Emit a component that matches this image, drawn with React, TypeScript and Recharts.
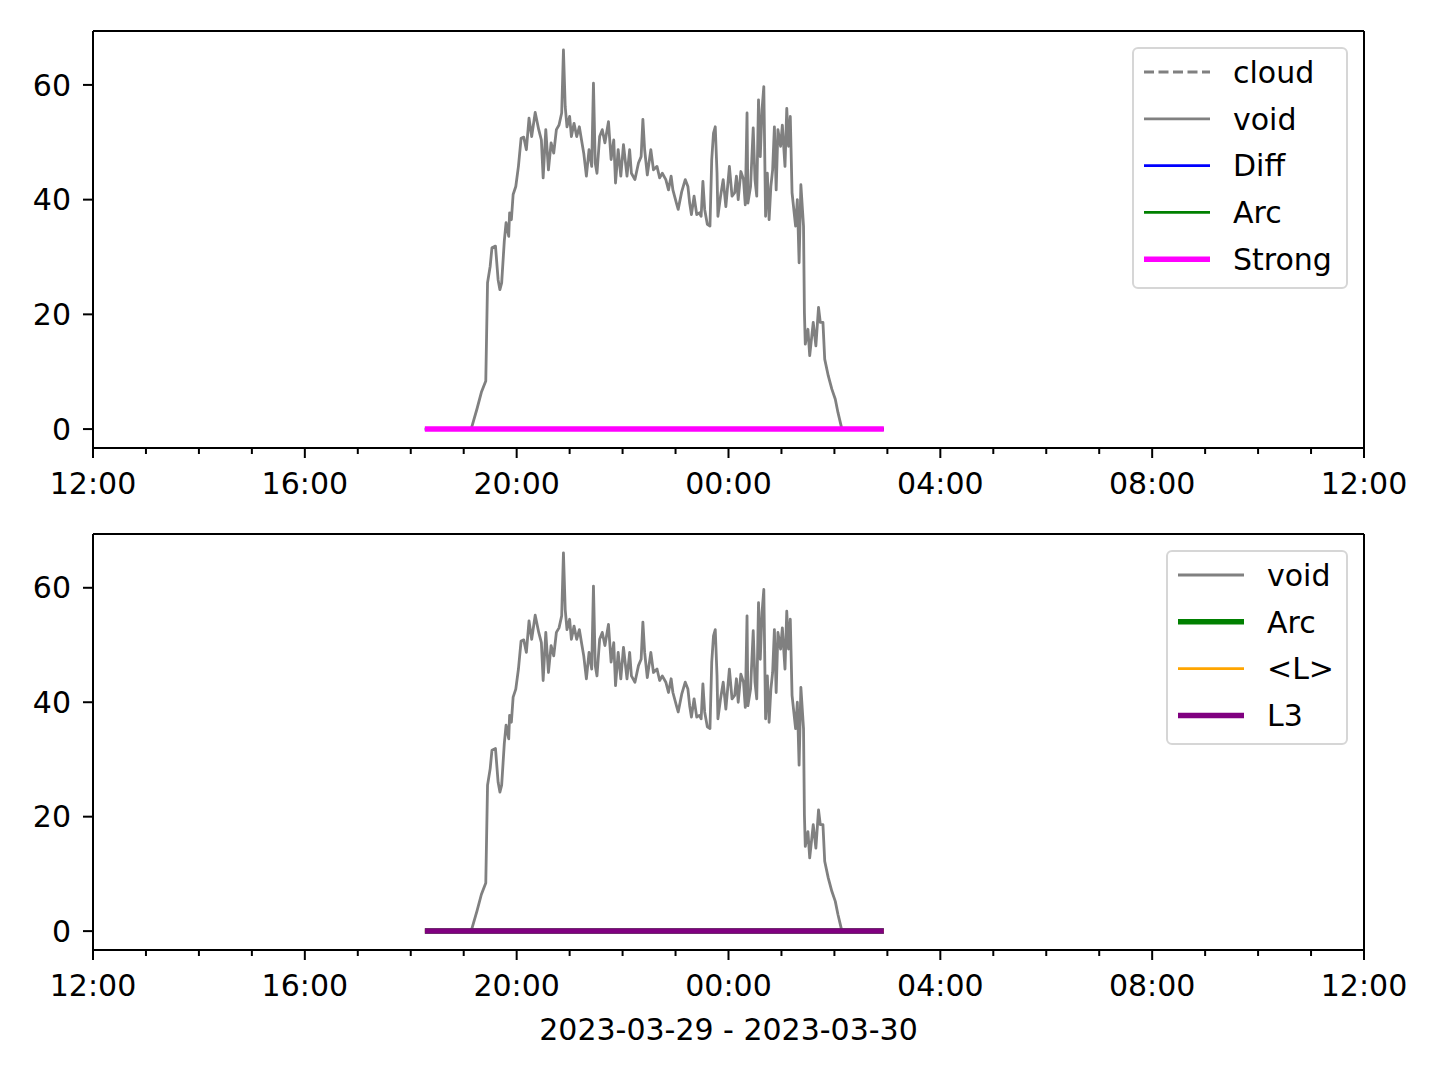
import React from 'react';
import { LineChart, Line, XAxis, YAxis, Legend, ReferenceLine } from 'recharts';

// minutes after 12:00 on 2023-03-29
const voidMinutes = [
  429, 435, 440, 445, 447, 450, 452, 456, 459, 461, 463, 466, 468, 471, 472, 474, 476, 479, 482, 485,
  488, 491, 494, 497, 501, 505, 508, 510, 513, 516, 519, 522, 525, 528, 531, 533, 535, 537, 540, 542,
  545, 548, 551, 554, 556, 559, 562, 565, 567, 569, 571, 574, 577, 580, 584, 587, 590, 592, 595, 598,
  601, 605, 608, 610, 614, 618, 621, 623, 625, 628, 632, 635, 639, 642, 645, 649, 652, 655, 657, 661,
  663, 667, 671, 674, 676, 678, 681, 684, 687, 689, 691, 693, 696, 699, 701, 703, 705, 707, 708, 711,
  714, 717, 721, 724, 727, 729, 731, 734, 737, 739, 741, 742, 745, 748, 750, 752, 754, 756, 758, 760,
  762, 764, 766, 768, 770, 772, 774, 776, 779, 781, 784, 786, 788, 790, 792, 796, 798, 800, 802, 805,
  806, 807, 810, 812, 816, 819, 822, 824, 827, 829, 833, 837, 841, 844, 848,
];
const voidValues = [
  0.3, 3.5, 6.4, 8.4, 25.5, 28.4, 31.6, 31.9, 26, 24.3, 25.5, 32.8, 36, 33.6, 37.7, 36.5, 40.9, 42.3, 45.8, 50.7,
  50.9, 48.7, 54.2, 51, 55.2, 52.2, 50.4, 43.8, 52.2, 45.2, 49.9, 48.1, 52.2, 53, 55.1, 66.1, 56.2, 52.7, 54.5, 51,
  53.3, 51, 52.7, 49.9, 48.1, 44.1, 48.7, 45.8, 60.3, 46.4, 44.6, 51, 52.2, 49.9, 53.6, 47, 50.4, 42.9, 48.7, 44.1,
  49.6, 44.1, 48.7, 44.6, 43.5, 46.4, 47.5, 54, 48.7, 44.3, 48.7, 45.2, 45.8, 43.8, 44.6, 43.5, 41.7, 44.1, 41.7, 39.4,
  38.3, 41.4, 43.5, 42.3, 39.4, 37.4, 40.6, 37.4, 37.7, 37.1, 43.2, 38.3, 35.7, 35.4, 47, 51.6, 52.7, 44.6, 37.1, 40.6,
  43.5, 38.8, 45.8, 40.6, 41.2, 44.1, 40, 44.9, 43.5, 39.1, 55.1, 39.4, 42.3, 52.5, 43.5, 40.6, 57.4, 47.5, 55.7, 59.7,
  37.1, 44.6, 36.5, 42.3, 45.2, 52.7, 41.7, 52.2, 49.3, 53, 45.8, 55.9, 49.3, 54.5, 41.2, 35.4, 40, 29, 42.6, 35.4,
  20.3, 14.8, 17.4, 12.8, 18.6, 14.5, 21.2, 18.6, 18.6, 12.2, 9.3, 7, 5.2, 2.9, 0.3,
];

// flat series at zero (18:16 -> 02:56)
const flatMinutes = [376, 896];
const flatValues = [0, 0];

const majorTicks = [0, 240, 480, 720, 960, 1200, 1440];
const minorTicks = [
  0, 60, 120, 180, 240, 300, 360, 420, 480, 540, 600, 660, 720,
  780, 840, 900, 960, 1020, 1080, 1140, 1200, 1260, 1320, 1380, 1440,
];
const yTicks = [0, 20, 40, 60];
const yDomain = [-3.3, 69.4];

const voidData = voidMinutes.map((t, i) => ({ t, v: voidValues[i] }));
const flatData = flatMinutes.map((t, i) => ({ t, v: flatValues[i] }));

const FONT = 'DejaVu Sans';
const FS = 30;
const GRAY = '#808080';
const AXIS = { stroke: '#000', strokeWidth: 2 };

type Item = { name: string; color: string; width: number; dash?: string; data: { t: number; v: number }[] };

const topSeries: Item[] = [
  { name: 'cloud', color: GRAY, width: 2.8, dash: '10 4.5', data: flatData },
  { name: 'void', color: GRAY, width: 2.8, data: voidData },
  { name: 'Diff', color: '#0000ff', width: 2.8, data: flatData },
  { name: 'Arc', color: '#008000', width: 2.8, data: flatData },
  { name: 'Strong', color: '#ff00ff', width: 5.5, data: flatData },
];

const bottomSeries: Item[] = [
  { name: 'void', color: GRAY, width: 2.8, data: voidData },
  { name: 'Arc', color: '#008000', width: 5.5, data: flatData },
  { name: '<L>', color: '#ffa500', width: 2.8, data: flatData },
  { name: 'L3', color: '#800080', width: 5.5, data: flatData },
];

const pad = (n: number) => String(n).padStart(2, '0');
const fmtTime = (m: number) => {
  const total = (720 + m) % 1440;
  return `${pad(Math.floor(total / 60))}:${pad(total % 60)}`;
};

// draws major ticks (with label) and minor ticks
function TimeTick(props: any) {
  const { x, y, payload } = props;
  const major = majorTicks.includes(payload.value);
  return (
    <g>
      <line x1={x} x2={x} y1={y} y2={y + (major ? 10 : 6)} stroke="#000" strokeWidth={2} />
      {major && (
        <text x={x} y={y + 25} dy="0.71em" textAnchor="middle" fontSize={FS} fontFamily={FONT} fill="#000">
          {fmtTime(payload.value)}
        </text>
      )}
    </g>
  );
}

function LegendBox({ items, width, height }: { items: Item[]; width: number; height: number }) {
  return (
    <div
      style={{
        width,
        height,
        boxSizing: 'border-box',
        border: '2px solid #d6d6d6',
        borderRadius: 6,
        background: 'rgba(255,255,255,0.8)',
      }}
    >
      <svg width={width - 4} height={height - 4} style={{ display: 'block' }}>
        {items.map((it, i) => {
          const y = 23 + i * 46.8;
          return (
            <g key={it.name}>
              <line x1={10} x2={76} y1={y} y2={y} stroke={it.color} strokeWidth={it.width} strokeDasharray={it.dash} />
              <text x={99} y={y} dy="0.36em" fontSize={FS} fontFamily={FONT} fill="#000">
                {it.name}
              </text>
            </g>
          );
        })}
      </svg>
    </div>
  );
}

interface PanelProps {
  height: number;
  bottom: number;
  axisHeight: number;
  series: Item[];
  legendLeft: number;
  legendW: number;
  legendH: number;
  xLabel?: string;
}

function Panel({ height, bottom, axisHeight, series, legendLeft, legendW, legendH, xLabel }: PanelProps) {
  return (
    <LineChart width={1440} height={height} margin={{ top: 31, right: 76, bottom, left: 13 }}>
      <XAxis
        dataKey="t"
        type="number"
        domain={[0, 1440]}
        ticks={minorTicks}
        interval={0}
        tickSize={0}
        tickMargin={0}
        height={axisHeight}
        tick={<TimeTick />}
        tickLine={false}
        axisLine={AXIS}
        label={
          xLabel
            ? { value: xLabel, position: 'insideBottom', offset: 0, fill: '#000', fontSize: FS, fontFamily: FONT }
            : undefined
        }
      />
      <YAxis
        type="number"
        domain={yDomain}
        ticks={yTicks}
        width={80}
        tickSize={10}
        tickMargin={12}
        interval={0}
        tick={{ fill: '#000', fontSize: FS, fontFamily: FONT }}
        axisLine={AXIS}
        tickLine={AXIS}
      />
      <ReferenceLine y={yDomain[1]} stroke="#000" strokeWidth={2} />
      <ReferenceLine x={1440} stroke="#000" strokeWidth={2} />
      {series.map((s) => (
        <Line
          key={s.name}
          data={s.data}
          dataKey="v"
          name={s.name}
          type="linear"
          stroke={s.color}
          strokeWidth={s.width}
          strokeDasharray={s.dash}
          strokeLinejoin="round"
          dot={false}
          activeDot={false}
          isAnimationActive={false}
        />
      ))}
      <Legend
        layout="vertical"
        align="center"
        verticalAlign="middle"
        wrapperStyle={{ left: legendLeft, top: 47, width: legendW, height: legendH }}
        content={() => <LegendBox items={series} width={legendW} height={legendH} />}
      />
    </LineChart>
  );
}

export default function App() {
  return (
    <div style={{ position: 'absolute', left: 0, top: 0, width: 1440, height: 1080, background: '#fff' }}>
      <div style={{ position: 'absolute', left: 0, top: 0 }}>
        <Panel height={500} bottom={0} axisHeight={52} series={topSeries} legendLeft={1132} legendW={216} legendH={242} />
      </div>
      <div style={{ position: 'absolute', left: 0, top: 503 }}>
        <Panel
          height={577}
          bottom={40}
          axisHeight={90}
          series={bottomSeries}
          legendLeft={1166}
          legendW={182}
          legendH={195}
          xLabel="2023-03-29 - 2023-03-30"
        />
      </div>
    </div>
  );
}
